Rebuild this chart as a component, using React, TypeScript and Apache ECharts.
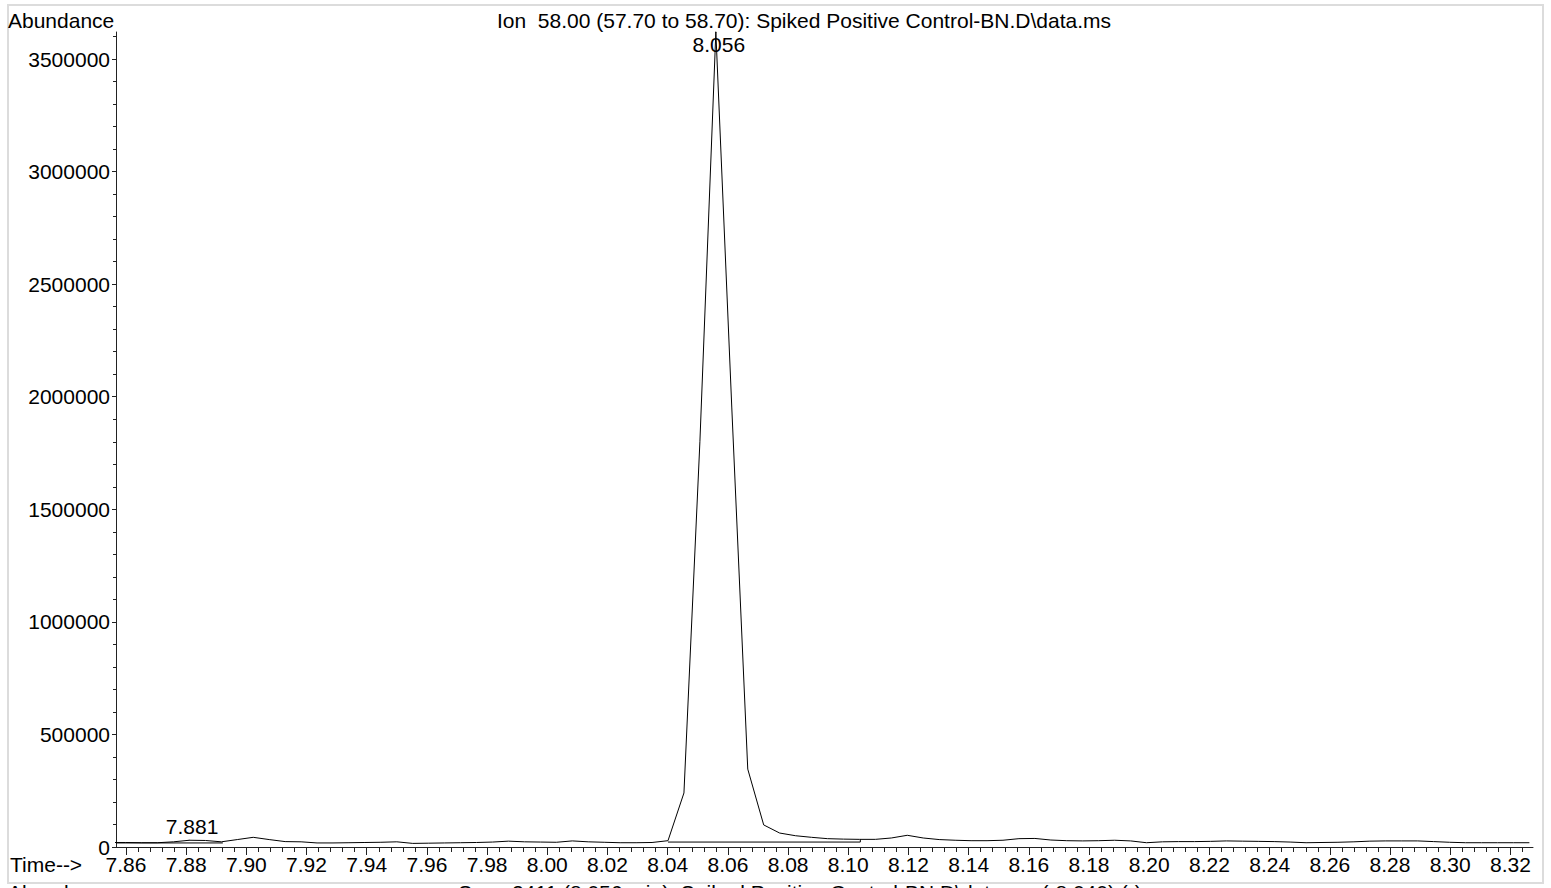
import React, { useEffect, useRef } from "react";
import * as echarts from "echarts";

const times = [
  7.8546, 7.8599, 7.8652, 7.8705, 7.8758, 7.8811, 7.8864, 7.8917, 7.897, 7.9023,
  7.9076, 7.9129, 7.9182, 7.9235, 7.9288, 7.9341, 7.9394, 7.9447, 7.95, 7.9553,
  7.9606, 7.9659, 7.9712, 7.9765, 7.9818, 7.9871, 7.9924, 7.9977, 8.003, 8.0083,
  8.0136, 8.0189, 8.0242, 8.0295, 8.0348, 8.0401, 8.0454, 8.0507, 8.056, 8.0613,
  8.0666, 8.0719, 8.0772, 8.0825, 8.0878, 8.0931, 8.0984, 8.1037, 8.109, 8.1143,
  8.1196, 8.1249, 8.1302, 8.1355, 8.1408, 8.1461, 8.1514, 8.1567, 8.162, 8.1673,
  8.1726, 8.1779, 8.1832, 8.1885, 8.1938, 8.1991, 8.2044, 8.2097, 8.215, 8.2203,
  8.2256, 8.2309, 8.2362, 8.2415, 8.2468, 8.2521, 8.2574, 8.2627, 8.268, 8.2733,
  8.2786, 8.2839, 8.2892, 8.2945, 8.2998, 8.3051, 8.3104, 8.3157, 8.321, 8.3263,
];

const abundance = [
  20000, 20000, 19000, 19000, 23000, 30000, 29000, 23000, 33000, 43000,
  33000, 24000, 23000, 18000, 18000, 19000, 20000, 21000, 23000, 16000,
  17000, 18000, 19000, 20000, 22000, 26000, 23000, 22000, 21000, 27000,
  23000, 21000, 19000, 19000, 20000, 28000, 240000, 1800000, 3620000, 1950000,
  346000, 98000, 62000, 50000, 43000, 37000, 35000, 34000, 34000, 40000,
  52000, 40000, 33000, 30000, 28000, 28000, 30000, 37000, 38000, 31000,
  28000, 27000, 28000, 30000, 27000, 19000, 23000, 24000, 24000, 25000,
  27000, 26000, 25000, 24000, 22000, 19000, 20000, 21000, 23000, 26000,
  27000, 27000, 27000, 24000, 21000, 19000, 19000, 19000, 19000, 19000,
];

// integration baselines
const baselineA = [
  [7.8567, 18000],
  [7.8922, 18000],
];
const baselineB = [
  [8.0401, 22000],
  [8.104, 22000],
  [8.104, 34000],
];

const peakTimes = [8.056, 7.881];
const peakValues = [3620000, 30000];
const peakLabels = ["8.056", "7.881"];

const xMajorTicks = [
  7.86, 7.88, 7.9, 7.92, 7.94, 7.96, 7.98, 8.0, 8.02, 8.04, 8.06, 8.08,
  8.1, 8.12, 8.14, 8.16, 8.18, 8.2, 8.22, 8.24, 8.26, 8.28, 8.3, 8.32,
];
const yMajorTicks = [0, 500000, 1000000, 1500000, 2000000, 2500000, 3000000, 3500000];

const X_MIN = 7.8567;
const X_MAX = 8.3275;
const Y_MIN = 0;
const Y_MAX = 3620000;

const FONT = '"Liberation Sans", Arial, Helvetica, sans-serif';

function buildMinorX(): number[] {
  const out: number[] = [];
  for (let i = 0; i < xMajorTicks.length; i++) {
    for (let j = 1; j < 5; j++) {
      const v = +(xMajorTicks[i] + j * 0.004).toFixed(4);
      if (v < X_MAX) out.push(v);
    }
  }
  const before = +(xMajorTicks[0] - 0.004).toFixed(4);
  if (before > X_MIN) out.unshift(before);
  return out;
}

function buildMinorY(): number[] {
  const out: number[] = [];
  for (let i = 0; i < yMajorTicks.length; i++) {
    for (let j = 1; j < 5; j++) {
      const v = yMajorTicks[i] + j * 100000;
      if (v < Y_MAX) out.push(v);
    }
  }
  return out;
}

export default function App() {
  const ref = useRef<HTMLDivElement>(null);

  useEffect(() => {
    if (!ref.current) return;
    const chart = echarts.init(ref.current, null, { renderer: "svg" });

    const seriesData = times.map((t, i) => [t, abundance[i]]);
    const peakData = peakTimes.map((t, i) => ({
      value: [t, peakValues[i]],
      label: {
        formatter: peakLabels[i],
        offset: i === 0 ? [3, 12] : [3, -14],
      },
    }));

    chart.setOption({
      animation: false,
      backgroundColor: "#ffffff",
      textStyle: { fontFamily: FONT },
      grid: {
        left: 116,
        right: 18,
        top: 32,
        bottom: 41,
        containLabel: false,
        outerBoundsMode: "none",
      },
      xAxis: [
        {
          type: "value",
          min: X_MIN,
          max: X_MAX,
          splitLine: { show: false },
          axisLine: { show: true, onZero: false, lineStyle: { color: "#222", width: 1 } },
          axisTick: {
            show: true,
            customValues: xMajorTicks,
            length: 8,
            inside: false,
            lineStyle: { color: "#222", width: 1 },
          },
          axisLabel: {
            show: true,
            customValues: xMajorTicks,
            formatter: (v: number) => v.toFixed(2),
            margin: 7,
            color: "#000",
            fontSize: 21,
            fontFamily: FONT,
            showMinLabel: true,
            showMaxLabel: true,
          },
        },
        {
          type: "value",
          min: X_MIN,
          max: X_MAX,
          position: "bottom",
          splitLine: { show: false },
          axisLine: { show: false, onZero: false },
          axisTick: {
            show: true,
            customValues: buildMinorX(),
            length: 5,
            lineStyle: { color: "#222", width: 1 },
          },
          axisLabel: { show: false },
        },
      ],
      yAxis: [
        {
          type: "value",
          min: Y_MIN,
          max: Y_MAX,
          splitLine: { show: false },
          axisLine: { show: true, onZero: false, lineStyle: { color: "#222", width: 1 } },
          axisTick: {
            show: true,
            customValues: yMajorTicks,
            length: 4,
            lineStyle: { color: "#222", width: 1 },
          },
          axisLabel: {
            show: true,
            customValues: yMajorTicks,
            formatter: (v: number) => String(v),
            margin: 6,
            color: "#000",
            fontSize: 21,
            fontFamily: FONT,
          },
        },
        {
          type: "value",
          min: Y_MIN,
          max: Y_MAX,
          position: "left",
          splitLine: { show: false },
          axisLine: { show: false, onZero: false },
          axisTick: {
            show: true,
            customValues: buildMinorY(),
            length: 3,
            lineStyle: { color: "#222", width: 1 },
          },
          axisLabel: { show: false },
        },
      ],
      series: [
        {
          type: "line",
          name: "Ion 58.00",
          data: seriesData,
          showSymbol: false,
          symbol: "none",
          clip: true,
          lineStyle: { color: "#000", width: 1 },
          z: 3,
        },
        {
          type: "line",
          name: "baselineA",
          data: baselineA,
          showSymbol: false,
          symbol: "none",
          clip: true,
          lineStyle: { color: "#000", width: 1 },
          z: 2,
        },
        {
          type: "line",
          name: "baselineB",
          data: baselineB,
          showSymbol: false,
          symbol: "none",
          clip: true,
          lineStyle: { color: "#000", width: 1 },
          z: 2,
        },
        {
          type: "scatter",
          name: "peaks",
          data: peakData,
          symbolSize: 1,
          itemStyle: { color: "#000", opacity: 1 },
          silent: true,
          clip: false,
          label: {
            show: true,
            position: "inside",
            color: "#000",
            opacity: 1,
            fontSize: 21,
            fontFamily: FONT,
            textBorderWidth: 0,
          },
          z: 4,
        },
      ],
      graphic: [
        {
          type: "rect",
          shape: { x: 8, y: 5, width: 1535, height: 878 },
          style: { fill: "none", stroke: "#dcdcdc", lineWidth: 2 },
          silent: true,
          z: 0,
        },
        {
          type: "text",
          x: 8,
          y: 20,
          style: {
            text: "Abundance",
            fill: "#000",
            font: `21px ${FONT}`,
            textAlign: "left",
            textVerticalAlign: "middle",
          },
        },
        {
          type: "text",
          x: 804,
          y: 20,
          style: {
            text: "Ion  58.00 (57.70 to 58.70): Spiked Positive Control-BN.D\\data.ms",
            fill: "#000",
            font: `21px ${FONT}`,
            textAlign: "center",
            textVerticalAlign: "middle",
          },
        },
        {
          type: "text",
          x: 10,
          y: 864,
          style: {
            text: "Time-->",
            fill: "#000",
            font: `21px ${FONT}`,
            textAlign: "left",
            textVerticalAlign: "middle",
          },
        },
        {
          type: "text",
          x: 8,
          y: 882,
          style: {
            text: "Abundance",
            fill: "#000",
            font: `21px ${FONT}`,
            textAlign: "left",
            textVerticalAlign: "top",
          },
        },
        {
          type: "text",
          x: 800,
          y: 882,
          style: {
            text: "Scan 2411 (8.056 min): Spiked Positive Control-BN.D\\data.ms (-8.040) (-)",
            fill: "#000",
            font: `21px ${FONT}`,
            textAlign: "center",
            textVerticalAlign: "top",
          },
        },
      ],
    });

    return () => {
      chart.dispose();
    };
  }, []);

  return (
    <div
      ref={ref}
      style={{
        position: "absolute",
        left: 0,
        top: 0,
        width: 1551,
        height: 888,
        background: "#fff",
      }}
    />
  );
}
